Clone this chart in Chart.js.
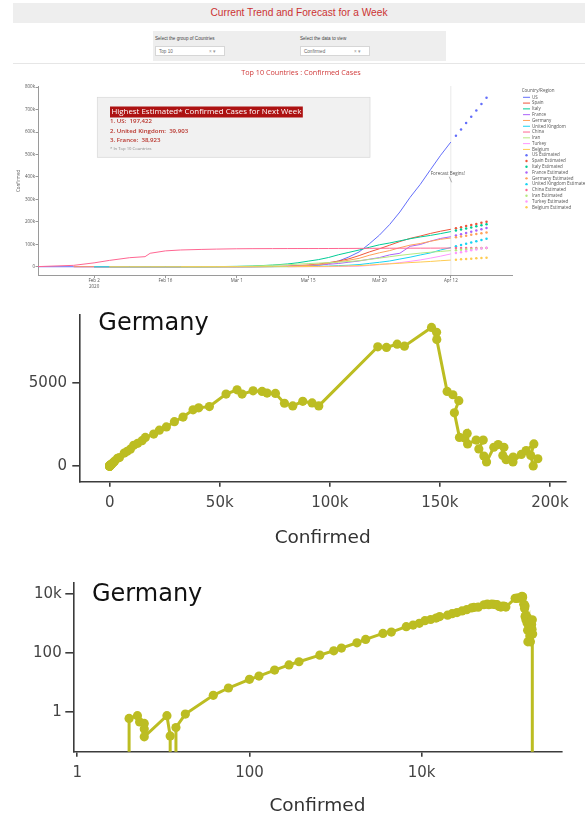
<!DOCTYPE html>
<html>
<head>
<meta charset="utf-8">
<script src="https://cdn.jsdelivr.net/npm/chart.js@4.4.1/dist/chart.umd.min.js"></script>
<style>
  body { margin: 0; width: 585px; height: 819px; background: #fff; position: relative; overflow: hidden;
         font-family: "Liberation Sans", Arial, sans-serif; }
  #topbar { position: absolute; left: 13px; top: 3px; width: 572px; height: 20px; background: #eeeeee;
            color: #cc3333; font-size: 10.2px; line-height: 20px; text-align: center; }
  #controls { position: absolute; left: 153px; top: 31px; width: 293px; height: 30px; background: #eeeeee; }
  .lbl { position: absolute; top: 5px; font-size: 4.6px; line-height: 5px; color: #444; white-space: nowrap; }
  .dd { position: absolute; top: 15px; width: 70px; height: 10px; background: #fff; border: 0.5px solid #d6d6d6;
        font-size: 4.6px; line-height: 10px; color: #666; box-sizing: border-box; padding-left: 3px; }
  .dd span { position: absolute; right: 8px; color: #999; }
  #rule { position: absolute; left: 13px; top: 63px; width: 572px; height: 1px; background: #e6e6e6; }
  canvas { position: absolute; left: 0; }
</style>
</head>
<body>
<div id="topbar">Current Trend and Forecast for a Week</div>
<div id="controls">
  <div class="lbl" style="left:2px">Select the group of Countries</div>
  <div class="lbl" style="left:147px">Select the data to view</div>
  <div class="dd" style="left:2px">Top 10<span>× ▾</span></div>
  <div class="dd" style="left:147px">Confirmed<span>× ▾</span></div>
</div>
<div id="rule"></div>
<canvas id="trend" width="585" height="234" style="top:64px"></canvas>
<canvas id="linear" width="585" height="260" style="top:300px"></canvas>
<canvas id="loglog" width="585" height="249" style="top:570px"></canvas>
<script>
// --- Top 10 trend: cumulative confirmed cases, x = days since Jan 22 2020
const dayIndex = [0, 7, 11, 14, 18, 21, 22, 25, 28, 32, 35, 39, 42, 46, 49, 51, 53, 55, 57, 59, 61, 63, 65, 67, 69, 71, 73, 75, 77, 79, 81];
const usCases = [1, 5, 8, 12, 12, 13, 15, 15, 15, 15, 60, 74, 153, 541, 1281, 2179, 3499, 6421, 13677, 25489, 43700, 65778, 101657, 140886, 188172, 243762, 308853, 366667, 432132, 496535, 555313];
const spainCases = [null, null, 1, 1, 2, 2, 2, 2, 2, 2, 13, 84, 222, 673, 2277, 5232, 7798, 11748, 17963, 25374, 35136, 49515, 65719, 80110, 95923, 112065, 126168, 136675, 148220, 158273, 166831];
const italyCases = [null, null, 2, 2, 3, 3, 3, 3, 3, 155, 453, 1694, 3089, 7375, 12462, 17660, 24747, 31506, 41035, 53578, 63927, 74386, 86498, 97689, 105792, 115242, 124632, 132547, 139422, 147577, 156363];
const franceCases = [null, 5, 6, 6, 11, 11, 11, 12, 12, 12, 18, 130, 285, 1126, 2284, 3667, 5423, 7699, 10995, 14459, 20123, 25600, 33402, 40708, 52827, 59929, 90848, 98963, 113959, 125931, 133670];
const germanyCases = [null, 4, 10, 12, 14, 16, 16, 16, 16, 16, 27, 130, 262, 1040, 1908, 3675, 5795, 9257, 15320, 22213, 29056, 37323, 50871, 62095, 71808, 84794, 96092, 103374, 113296, 122171, 127854];
const ukCases = [null, null, 2, 2, 3, 9, 9, 9, 9, 13, 13, 36, 87, 273, 459, 801, 1144, 1960, 2716, 5067, 6726, 9640, 14745, 19780, 25481, 34173, 42477, 52279, 61474, 74605, 85206];
const chinaCases = [548, 6087, 17187, 28060, 40235, 44759, 59895, 70548, 74576, 77041, 78498, 79968, 80422, 80735, 80921, 80977, 81003, 81058, 81156, 81305, 81439, 81661, 81897, 82122, 82279, 82432, 82543, 82665, 82809, 82941, 83134];
const iranCases = [null, null, null, null, null, null, null, null, 2, 43, 139, 978, 2336, 6566, 9000, 11364, 13938, 16169, 18407, 20610, 23049, 27017, 32332, 38309, 44605, 50468, 55743, 60500, 64586, 68192, 71686];
const turkeyCases = [null, null, null, null, null, null, null, null, null, null, null, null, null, null, 1, 5, 6, 47, 359, 947, 1529, 2433, 5698, 9217, 13531, 18135, 23934, 30217, 38226, 47029, 56956];
const belgiumCases = [null, null, null, 1, 1, 1, 1, 1, 1, 1, 1, 2, 13, 200, 314, 559, 886, 1243, 1795, 2815, 3743, 4937, 7284, 10836, 12775, 15348, 18431, 20814, 23403, 26667, 29647];

// --- week-ahead estimates, Apr 13 .. Apr 19
const forecastDays = [82, 83, 84, 85, 86, 87, 88];
const usEst = [583400, 611600, 639800, 668000, 696200, 724500, 752700];
const spainEst = [171500, 176300, 181100, 185900, 190700, 195500, 200300];
const italyEst = [161000, 165700, 170400, 175100, 179800, 184500, 189200];
const franceEst = [139200, 144800, 150300, 155800, 161300, 166800, 172600];
const germanyEst = [131400, 134900, 138400, 141900, 145400, 148900, 152400];
const ukEst = [90900, 96600, 102300, 108000, 113700, 119400, 125100];
const chinaEst = [83240, 83350, 83460, 83570, 83680, 83790, 83900];
const iranEst = [73500, 75200, 76900, 78600, 80300, 82000, 83700];
const turkeyEst = [61000, 65000, 69000, 73000, 77000, 81000, 85000];
const belgiumEst = [31300, 32800, 34300, 35800, 37300, 38800, 40300];

const countryNames = ['US', 'Spain', 'Italy', 'France', 'Germany', 'United Kingdom', 'China', 'Iran', 'Turkey', 'Belgium'];
const countryColors = ['#636efa', '#ef553b', '#00cc96', '#ab63fa', '#ffa15a', '#19d3f3', '#ff6692', '#b6e880', '#ff97ff', '#fecb52'];
const actualSeries = [usCases, spainCases, italyCases, franceCases, germanyCases, ukCases, chinaCases, iranCases, turkeyCases, belgiumCases];
const estimatedSeries = [usEst, spainEst, italyEst, franceEst, germanyEst, ukEst, chinaEst, iranEst, turkeyEst, belgiumEst];

const forecastStartDay = 81;
const trendTickDays = [11, 25, 39, 53, 67, 81];
const trendTickLabels = [['Feb 2', '2020'], 'Feb 16', 'Mar 1', 'Mar 15', 'Mar 29', 'Apr 12'];
const trendYTicks = [0, 100000, 200000, 300000, 400000, 500000, 600000, 700000, 800000];
const nextWeekLeaders = ['1. US:  197,422', '2. United Kingdom:  39,903', '3. France:  38,923'];

// --- Germany: daily new cases against cumulative confirmed (path order)
const germanyConfirmed = [4, 4, 5, 5.3, 6, 6, 6, 11, 12, 12, 14, 14, 18, 38, 57, 100, 129, 196, 288, 376, 656, 953, 1170, 1772, 2236, 3551, 4446, 6620, 7950, 9390,
  10900, 12730, 14700, 16200, 20000, 22570, 25750, 29400, 33330, 37880, 40450, 45300, 52870, 57870, 60150, 65150, 69240, 71500, 75300, 79400, 83170, 87720, 91960, 94990,
  121800, 125750, 130600, 133900, 146200, 148500, 148600, 153300, 155900, 158600, 156600, 158900, 161300, 162400, 162600, 166500, 169700, 167700, 170000, 171200,
  174500, 176500, 179100, 178600, 180100, 183300, 183200, 187000, 189200, 192700, 191300, 192400, 194500];
const germanyNew = [0, 0.59, 0.73, 0.45, 0.4, 0.26, 0.14, 0.73, 0.15, 0, 0, 0.29, 0.83, 3.6, 6.4, 12.6, 16.3, 26, 39, 50, 84, 118, 146, 221, 288, 459, 512, 778, 885, 1012,
  1250, 1369, 1528, 1726, 1924, 2163, 2361, 2678, 2956, 3393, 3512, 3591, 4345, 4603, 4345, 4543, 4504, 4404, 4385, 3790, 3631, 3908, 3809, 3631,
  7202, 7162, 7361, 7242, 8372, 8075, 7638, 4504, 4305, 3948, 3214, 1726, 1686, 1964, 1329, 1567, 1567, 1032, 595, 238,
  1131, 1290, 1131, 635, 377, 536, 238, 694, 932, 1329, 635, 0, 436];
const linXTicks = [0, 50000, 100000, 150000, 200000];
const linYTicks = [0, 5000];
const logTicks = [1, 100, 10000];
// zero days cannot sit on a log axis: they are sent below the axis floor
const logFloor = 1e-4;

const kLabel = v => (v >= 1000 ? (v / 1000) + 'k' : String(v));
const germanyPoints = germanyConfirmed.map((c, i) => ({ x: c, y: germanyNew[i] }));
const germanyLogPoints = germanyPoints.map(p => ({ x: p.x, y: p.y === 0 ? logFloor : p.y }));

// ---------- chart 1: trend and forecast ----------
const trendDecor = {
  id: 'trendDecor',
  beforeDatasetsDraw(chart) {
    const { ctx, chartArea: a, scales: { x } } = chart;
    const px = x.getPixelForValue(forecastStartDay);
    ctx.save();
    ctx.strokeStyle = 'rgba(0,0,0,0.13)';
    ctx.lineWidth = 0.7;
    ctx.beginPath();
    ctx.moveTo(px, a.top);
    ctx.lineTo(px, a.bottom);
    ctx.stroke();
    ctx.restore();
  },
  afterDraw(chart) {
    const { ctx, scales: { x } } = chart;
    ctx.save();
    ctx.textBaseline = 'middle';

    ctx.fillStyle = '#d03a3a';
    ctx.font = '7.2px "Open Sans"';
    ctx.textAlign = 'center';
    ctx.fillText('Top 10 Countries : Confirmed Cases', 301, 9.3);

    // summary box
    ctx.fillStyle = '#f1f1f1';
    ctx.fillRect(97.3, 33.3, 272.7, 60);
    ctx.strokeStyle = '#d8d8d8';
    ctx.lineWidth = 0.7;
    ctx.strokeRect(97.3, 33.3, 272.7, 60);
    ctx.textAlign = 'left';
    ctx.font = '7.9px "Open Sans"';
    const head = 'Highest Estimated* Confirmed Cases for Next Week';
    const hw = ctx.measureText(head).width;
    ctx.fillStyle = '#ad1212';
    ctx.fillRect(110, 42.5, hw + 3, 11);
    ctx.fillStyle = '#fff';
    ctx.fillText(head, 111.5, 48.2);
    ctx.fillStyle = '#b8322a';
    ctx.font = '600 6.1px "Open Sans"';
    nextWeekLeaders.forEach((t, i) => ctx.fillText(t, 110, 57.7 + i * 9.5));
    ctx.fillStyle = '#888';
    ctx.font = '4.2px "Open Sans"';
    ctx.fillText('* In Top 10 Countries', 110, 85.3);

    // forecast marker
    const px = x.getPixelForValue(forecastStartDay);
    ctx.fillStyle = '#555';
    ctx.font = '4.5px "Open Sans"';
    ctx.textAlign = 'center';
    ctx.fillText('Forecast Begins!', px - 3, 109.7);
    ctx.strokeStyle = '#777';
    ctx.lineWidth = 0.6;
    ctx.beginPath();
    ctx.moveTo(px - 1.6, 112.7);
    ctx.lineTo(px + 0.8, 118.3);
    ctx.stroke();

    // legend
    ctx.textAlign = 'left';
    ctx.font = '4.5px "Open Sans"';
    ctx.fillStyle = '#555';
    ctx.fillText('Country/Region', 521.7, 27);
    countryNames.forEach((name, i) => {
      const y = 33.3 + i * 5.79;
      ctx.strokeStyle = countryColors[i];
      ctx.lineWidth = 1;
      ctx.beginPath();
      ctx.moveTo(523, y);
      ctx.lineTo(530, y);
      ctx.stroke();
      ctx.fillStyle = '#555';
      ctx.fillText(name, 532, y);
    });
    countryNames.forEach((name, i) => {
      const y = 33.3 + (i + 10) * 5.79;
      ctx.fillStyle = countryColors[i];
      ctx.beginPath();
      ctx.arc(526.5, y, 1.2, 0, Math.PI * 2);
      ctx.fill();
      ctx.fillStyle = '#555';
      ctx.fillText(name + ' Estimated', 532, y);
    });
    ctx.restore();
  }
};

const trendDatasets = [];
actualSeries.forEach((series, i) => {
  trendDatasets.push({
    label: countryNames[i],
    data: dayIndex.map((d, j) => ({ x: d, y: series[j] })),
    borderColor: countryColors[i],
    borderWidth: 1,
    pointRadius: 0,
    spanGaps: false,
    order: 20 - i
  });
});
estimatedSeries.forEach((series, i) => {
  trendDatasets.push({
    label: countryNames[i] + ' Estimated',
    data: forecastDays.map((d, j) => ({ x: d, y: series[j] })),
    showLine: false,
    pointRadius: 1.25,
    pointBorderWidth: 0,
    pointBackgroundColor: countryColors[i],
    borderColor: countryColors[i],
    order: 10 - i
  });
});

const smallFont = { family: '"Open Sans"', size: 4.5 };
new Chart(document.getElementById('trend'), {
  type: 'line',
  data: { datasets: trendDatasets },
  options: {
    responsive: false,
    animation: false,
    events: [],
    layout: { padding: { top: 22, right: 73, left: 0, bottom: 0 } },
    plugins: { legend: { display: false }, tooltip: { enabled: false } },
    scales: {
      x: {
        type: 'linear', min: 0, max: 93,
        afterBuildTicks: s => { s.ticks = trendTickDays.map(v => ({ value: v })); },
        afterFit: s => { s.height = 22.3; },
        border: { display: true, color: '#9a9a9a', width: 1 },
        grid: { display: true, drawOnChartArea: false, drawTicks: true, tickLength: 2.5, color: '#9a9a9a' },
        ticks: { autoSkip: false, maxRotation: 0, padding: 0.3, color: '#555', font: smallFont,
                 callback: v => trendTickLabels[trendTickDays.indexOf(v)] }
      },
      y: {
        min: -40000, max: 805000,
        afterBuildTicks: s => { s.ticks = trendYTicks.map(v => ({ value: v })); },
        afterFit: s => { s.width = 38; },
        border: { display: true, color: '#9a9a9a', width: 1 },
        grid: { display: true, drawOnChartArea: false, drawTicks: true, tickLength: 2.5, color: '#9a9a9a' },
        ticks: { padding: 0.5, color: '#555', font: smallFont, callback: v => kLabel(v) },
        title: { display: true, text: 'Confirmed', color: '#555', font: smallFont, padding: { top: 16.3, bottom: 0 } }
      }
    }
  },
  plugins: [trendDecor]
});

// ---------- charts 2 and 3: Germany ----------
const countryLabel = {
  id: 'countryLabel',
  afterDraw(chart, args, opts) {
    const { ctx } = chart;
    ctx.save();
    ctx.font = opts.font;
    ctx.fillStyle = '#111';
    ctx.textBaseline = 'middle';
    ctx.textAlign = 'left';
    ctx.fillText(opts.text, opts.x, opts.y);
    ctx.restore();
  }
};

const olive = '#bcbd22';
const axisColor = '#3c3c3c';
const tickFont = { family: '"DejaVu Sans"', size: 15 };
const titleFont = { family: '"DejaVu Sans"', size: 18.5 };

new Chart(document.getElementById('linear'), {
  type: 'scatter',
  data: { datasets: [{ data: germanyPoints, showLine: true, borderColor: olive, borderWidth: 3,
                       pointRadius: 4.6, pointBorderWidth: 0, pointBackgroundColor: olive }] },
  options: {
    responsive: false, animation: false, events: [],
    layout: { padding: { top: 11.7, right: 19, left: 0, bottom: 0 } },
    plugins: { legend: { display: false }, tooltip: { enabled: false },
               countryLabel: { text: 'Germany', font: '24px "DejaVu Sans"', x: 98.3, y: 24 } },
    scales: {
      x: {
        type: 'linear', min: -13800, max: 207300,
        afterBuildTicks: s => { s.ticks = linXTicks.map(v => ({ value: v })); },
        afterFit: s => { s.height = 78.3; },
        border: { display: true, color: axisColor, width: 1.6 },
        grid: { display: true, drawOnChartArea: false, drawTicks: true, tickLength: 5, color: axisColor, lineWidth: 1.6 },
        ticks: { autoSkip: false, maxRotation: 0, padding: 7.3, color: '#444', font: tickFont, callback: v => kLabel(v) },
        title: { display: true, text: 'Confirmed', color: '#333', font: titleFont, padding: { top: 0, bottom: 10.9 } }
      },
      y: {
        type: 'linear', min: -952, max: 9167,
        afterBuildTicks: s => { s.ticks = linYTicks.map(v => ({ value: v })); },
        afterFit: s => { s.width = 79.3; },
        border: { display: true, color: axisColor, width: 1.6 },
        grid: { display: true, drawOnChartArea: false, drawTicks: true, tickLength: 7, color: axisColor, lineWidth: 1.6 },
        ticks: { padding: 5.3, color: '#444', font: tickFont, callback: v => String(v) }
      }
    }
  },
  plugins: [countryLabel]
});

new Chart(document.getElementById('loglog'), {
  type: 'scatter',
  data: { datasets: [{ data: germanyLogPoints, showLine: true, borderColor: olive, borderWidth: 3,
                       pointRadius: c => (c.raw && c.raw.y === logFloor ? 0 : 4.6), pointBorderWidth: 0, pointBackgroundColor: olive,
                       segment: { borderColor: c => (c.p0.parsed.y === logFloor && c.p1.parsed.y === logFloor ? 'rgba(0,0,0,0)' : undefined) } }] },
  options: {
    responsive: false, animation: false, events: [],
    layout: { padding: { top: 13, right: 23.5, left: 0, bottom: 0 } },
    plugins: { legend: { display: false }, tooltip: { enabled: false },
               countryLabel: { text: 'Germany', font: '24px "DejaVu Sans"', x: 92, y: 25 } },
    scales: {
      x: {
        type: 'logarithmic', min: 0.8995, max: 420700,
        afterBuildTicks: s => { s.ticks = logTicks.map(v => ({ value: v })); },
        afterFit: s => { s.height = 67.3; },
        border: { display: true, color: axisColor, width: 1.6 },
        grid: { display: true, drawOnChartArea: false, drawTicks: true, tickLength: 5, color: axisColor, lineWidth: 1.6 },
        ticks: { autoSkip: false, maxRotation: 0, padding: 7.6, color: '#444', font: tickFont, callback: v => kLabel(v) },
        title: { display: true, text: 'Confirmed', color: '#333', font: titleFont, padding: { top: 0, bottom: 1.9 } }
      },
      y: {
        type: 'logarithmic', min: 0.04359, max: 23860,
        afterBuildTicks: s => { s.ticks = logTicks.map(v => ({ value: v })); },
        afterFit: s => { s.width = 73.3; },
        border: { display: true, color: axisColor, width: 1.6 },
        grid: { display: true, drawOnChartArea: false, drawTicks: true, tickLength: 8, color: axisColor, lineWidth: 1.6 },
        ticks: { padding: 3.6, color: '#444', font: tickFont, callback: v => kLabel(v) }
      }
    }
  },
  plugins: [countryLabel]
});
</script>
</body>
</html>
